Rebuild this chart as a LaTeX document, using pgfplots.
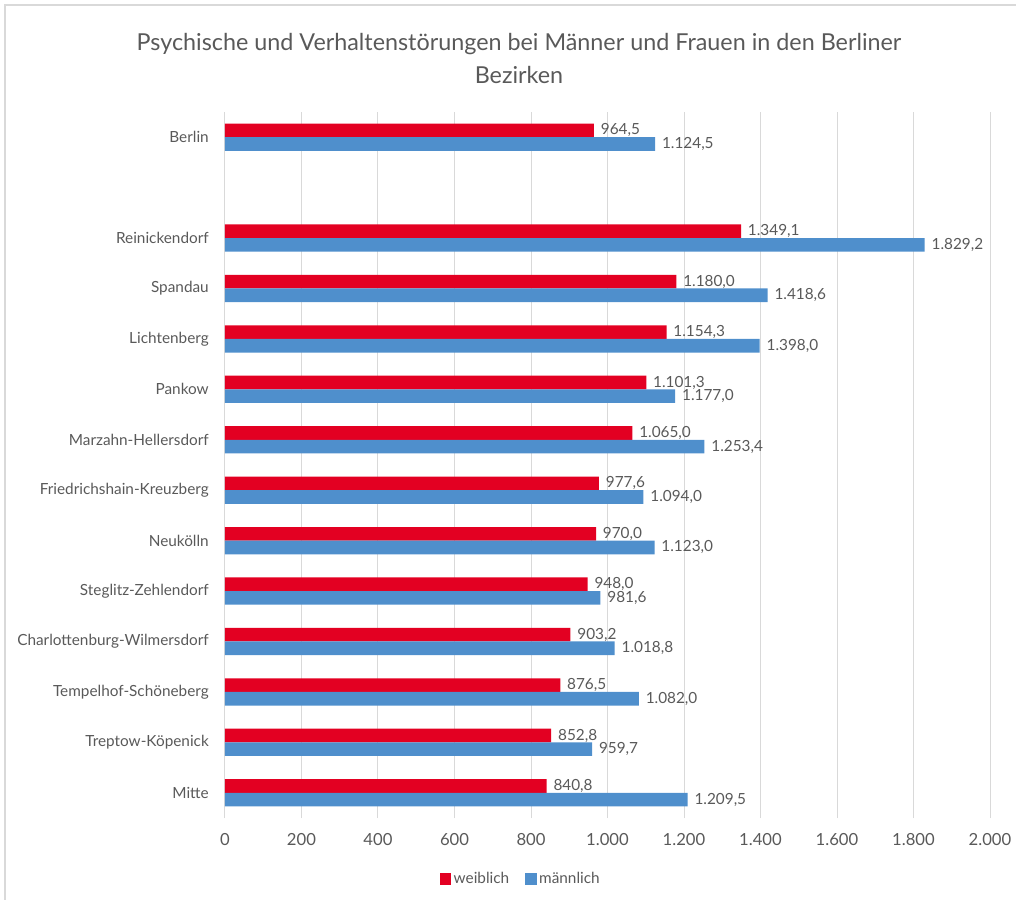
\documentclass[border=0pt]{standalone}
\usepackage{fontspec}
\setmainfont{Lato}
\usepackage{pgfplots}
\pgfplotsset{compat=1.18}

\definecolor{wred}{HTML}{E30022}
\definecolor{mblue}{HTML}{4F8FCC}
\definecolor{txt}{HTML}{595959}
\definecolor{gridc}{HTML}{D9D9D9}

\begin{document}
\begin{tikzpicture}
\useasboundingbox (-168.75pt,-60.75pt) rectangle (593.25pt,613.5pt);
% chart frame (left and top edges)
\draw[gridc, line width=1pt] (-165pt,-70pt) -- (-165pt,609.75pt) -- (600pt,609.75pt);

\begin{axis}[
  at={(0,0)}, anchor=south west,
  scale only axis, width=573.75pt, height=529.5pt,
  xmin=0, xmax=2000, ymin=-0.5, ymax=13.5,
  xbar, bar width=0.27,
  xtick={0,200,...,2000},
  ytick={0,1,2,3,4,5,6,7,8,9,10,11,13},
  yticklabels={Mitte,Treptow-Köpenick,Tempelhof-Schöneberg,Charlottenburg-Wilmersdorf,Steglitz-Zehlendorf,Neukölln,Friedrichshain-Kreuzberg,Marzahn-Hellersdorf,Pankow,Lichtenberg,Spandau,Reinickendorf,Berlin},
  xmajorgrids, grid style={gridc, line width=0.75pt},
  axis line style={draw=none}, major tick length=0pt,
  scaled ticks=false,
  /pgf/number format/assume math mode=true,
  /pgf/number format/use comma,
  /pgf/number format/1000 sep={.},
  xticklabel style={txt, font=\fontsize{12.5}{14}\selectfont, anchor=center, yshift=-16.5pt},
  yticklabel style={txt, font=\fontsize{11.5}{13}\selectfont, anchor=east, inner sep=0pt, xshift=-12pt},
  nodes near coords={\pgfmathprintnumber[fixed,zerofill,precision=1]{\pgfplotspointmeta}},
  every node near coord/.append style={anchor=west, inner sep=0pt, xshift=5pt, txt, font=\fontsize{11.5}{13}\selectfont},
  legend style={at={(0.387,-0.0864)}, anchor=center, draw=none, fill=none,
    legend columns=2, font=\fontsize{11.5}{13}\selectfont, text=txt,
    /tikz/every even column/.append style={column sep=10pt}},
  legend image code/.code={\fill[#1] (0pt,-4.5pt) rectangle (8.5pt,4.5pt);},
]
\addplot[fill=wred, draw=none, bar shift=0.135] coordinates {
  (840.8,0) (852.8,1) (876.5,2) (903.2,3) (948.0,4) (970.0,5) (977.6,6)
  (1065.0,7) (1101.3,8) (1154.3,9) (1180.0,10) (1349.1,11) (964.5,13)
};
\addplot[fill=mblue, draw=none, bar shift=-0.135] coordinates {
  (1209.5,0) (959.7,1) (1082.0,2) (1018.8,3) (981.6,4) (1123.0,5) (1094.0,6)
  (1253.4,7) (1177.0,8) (1398.0,9) (1418.6,10) (1829.2,11) (1124.5,13)
};
\legend{weiblich, männlich}
\end{axis}

\node[txt, font=\fontsize{17.5}{24.75}\selectfont, align=center] at (220.5pt,569.6pt)
  {Psychische und Verhaltenstörungen bei Männer und Frauen in den Berliner\\Bezirken};
\end{tikzpicture}
\end{document}
